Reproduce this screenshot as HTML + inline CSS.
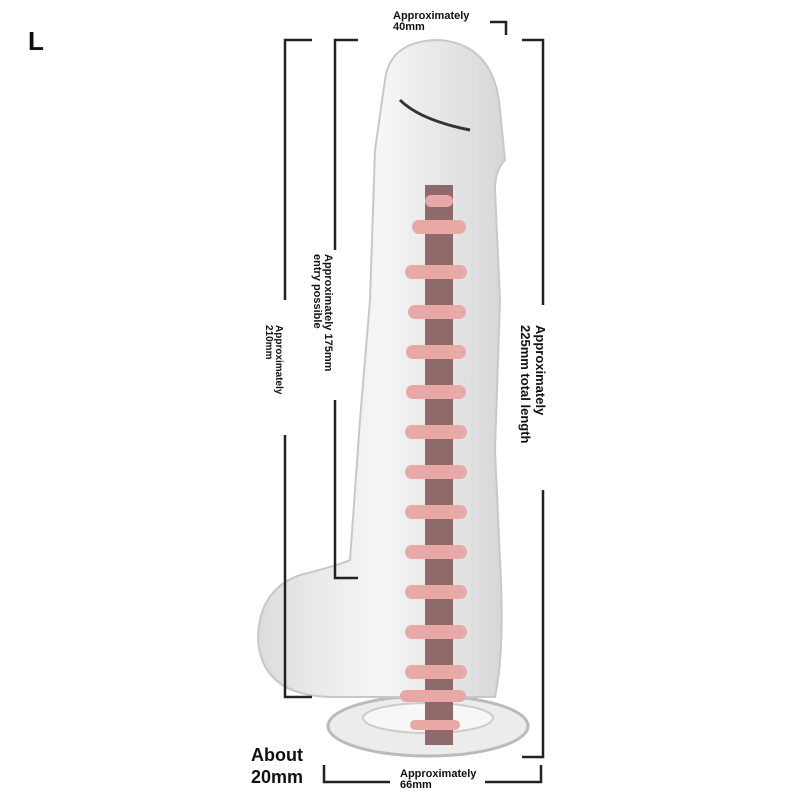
<!DOCTYPE html>
<html><head><meta charset="utf-8"><style>
html,body{margin:0;padding:0;background:#fff}
body{width:800px;height:800px;position:relative;overflow:hidden;font-family:"Liberation Sans",sans-serif;color:#111}
.t{position:absolute;font-weight:bold;font-size:11px;line-height:11px;white-space:nowrap}
.r{position:absolute;font-weight:bold;white-space:nowrap;transform-origin:0 0;transform:rotate(90deg)}
</style></head><body>
<svg width="800" height="800" style="position:absolute;left:0;top:0">
<defs>
<linearGradient id="g" x1="0" x2="1"><stop offset="0" stop-color="#dcdcdc"/><stop offset=".5" stop-color="#f6f6f6"/><stop offset="1" stop-color="#d6d6d6"/></linearGradient>
</defs>
<!-- base -->
<ellipse cx="428" cy="726" rx="100" ry="30" fill="#ececec" stroke="#bbb" stroke-width="3"/>
<ellipse cx="428" cy="718" rx="65" ry="15" fill="#f7f7f7" stroke="#ccc" stroke-width="2"/>
<!-- body -->
<path d="M385 80 Q390 40 440 40 Q495 45 500 110 L505 160 Q495 170 495 190 L500 300 L495 450 L500 560 Q505 650 495 697 L330 697 Q262 695 258 640 Q258 590 300 575 Q340 565 350 560 L360 420 L370 300 L375 150 Z" fill="url(#g)" stroke="#c8c8c8" stroke-width="2"/>
<path d="M400 100 Q420 120 470 130" stroke="#333" stroke-width="3" fill="none"/>
<!-- core -->
<rect x="425" y="185" width="28" height="560" fill="#8e6a6a"/>
<g fill="#e7a8a6">
<rect x="412" y="220" width="54" height="14" rx="7"/>
<rect x="405" y="265" width="62" height="14" rx="7"/>
<rect x="408" y="305" width="58" height="14" rx="7"/>
<rect x="406" y="345" width="60" height="14" rx="7"/>
<rect x="406" y="385" width="60" height="14" rx="7"/>
<rect x="405" y="425" width="62" height="14" rx="7"/>
<rect x="405" y="465" width="62" height="14" rx="7"/>
<rect x="405" y="505" width="62" height="14" rx="7"/>
<rect x="405" y="545" width="62" height="14" rx="7"/>
<rect x="405" y="585" width="62" height="14" rx="7"/>
<rect x="405" y="625" width="62" height="14" rx="7"/>
<rect x="405" y="665" width="62" height="14" rx="7"/>
<rect x="400" y="690" width="66" height="12" rx="6"/>
<rect x="410" y="720" width="50" height="10" rx="5"/>
<rect x="425" y="195" width="28" height="12" rx="6"/>
</g>
<!-- brackets -->
<g stroke="#222" stroke-width="2.5" fill="none">
<polyline points="312,40 285,40 285,300"/>
<polyline points="285,435 285,697 312,697"/>
<polyline points="358,40 335,40 335,250"/>
<polyline points="335,400 335,578 358,578"/>
<polyline points="490,22 506,22 506,35"/>
<polyline points="522,40 543,40 543,305"/>
<polyline points="543,490 543,757 522,757"/>
<polyline points="324,765 324,782 390,782"/>
<polyline points="485,782 541,782 541,765"/>
</g>
</svg>
<div style="position:absolute;left:28px;top:28px;font-weight:bold;font-size:26px;line-height:26px">L</div>
<div class="t" style="left:393px;top:11px">Approximately<br>40mm</div>
<div class="t" style="left:400px;top:769px">Approximately<br>66mm</div>
<div style="position:absolute;left:251px;top:744px;font-weight:bold;font-size:18px;line-height:22px">About<br>20mm</div>
<div class="r" style="left:333px;top:254px;font-size:11px;line-height:11px">Approximately 175mm<br>entry possible</div>
<div class="r" style="left:283px;top:325px;font-size:10px;line-height:10px">Approximately<br>210mm</div>
<div class="r" style="left:548px;top:325px;font-size:13px;line-height:15px">Approximately<br>225mm total length</div>
</body></html>
